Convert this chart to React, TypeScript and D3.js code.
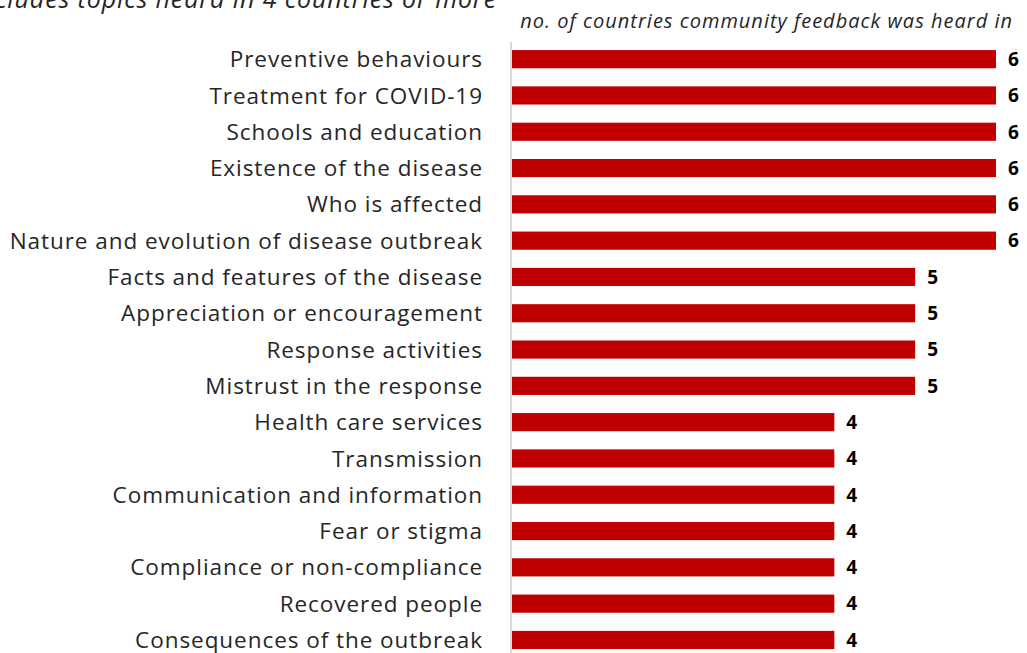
import React from "react";
import * as d3 from "d3";

const topics: string[] = [
  "Preventive behaviours",
  "Treatment for COVID-19",
  "Schools and education",
  "Existence of the disease",
  "Who is affected",
  "Nature and evolution of disease outbreak",
  "Facts and features of the disease",
  "Appreciation or encouragement",
  "Response activities",
  "Mistrust in the response",
  "Health care services",
  "Transmission",
  "Communication and information",
  "Fear or stigma",
  "Compliance or non-compliance",
  "Recovered people",
  "Consequences of the outbreak",
];
const countries: number[] = [6, 6, 6, 6, 6, 6, 5, 5, 5, 5, 4, 4, 4, 4, 4, 4, 4];

const titleText = "Includes topics heard in 4 countries or more";
const axisTitle = "no. of countries community feedback was heard in";

export default function App() {
  const W = 1027, H = 653;
  const x = d3.scaleLinear().domain([0, 6]).range([511, 996]);
  const y = d3.scaleBand<string>().domain(topics).range([41, 41 + 36.3 * topics.length]).paddingInner(0.5).paddingOuter(0.25);
  const font = "'Open Sans', sans-serif";
  return (
    <svg width={W} height={H} style={{ position: "absolute", left: 0, top: 0 }} fontFamily={font}>
      <rect width={W} height={H} fill="#fff" />
      <text x={497} y={8} textAnchor="end" fontStyle="italic" fontSize={25} letterSpacing={0.9} fill="#262626">{titleText}</text>
      <text x={1013} y={28} textAnchor="end" fontStyle="italic" fontSize={20} letterSpacing={1.0} fill="#262626">{axisTitle}</text>
      <line x1={x(0)} x2={x(0)} y1={42} y2={H} stroke="#d9d9d9" strokeWidth={2} />
      {topics.map((t, i) => {
        const yy = y(t)!;
        const bw = y.bandwidth();
        return (
          <g key={t}>
            <rect x={x(0) + 1} y={yy} width={x(countries[i]) - x(0) - 1} height={bw} fill="#c00000" />
            <text x={483} y={yy + bw / 2} dy="0.36em" textAnchor="end" fontSize={22.5} letterSpacing={0.95} fill="#262626">{t}</text>
            <text x={x(countries[i]) + 12} y={yy + bw / 2} dy="0.36em" fontSize={19} fontWeight="bold" fill="#000">{countries[i]}</text>
          </g>
        );
      })}
    </svg>
  );
}
